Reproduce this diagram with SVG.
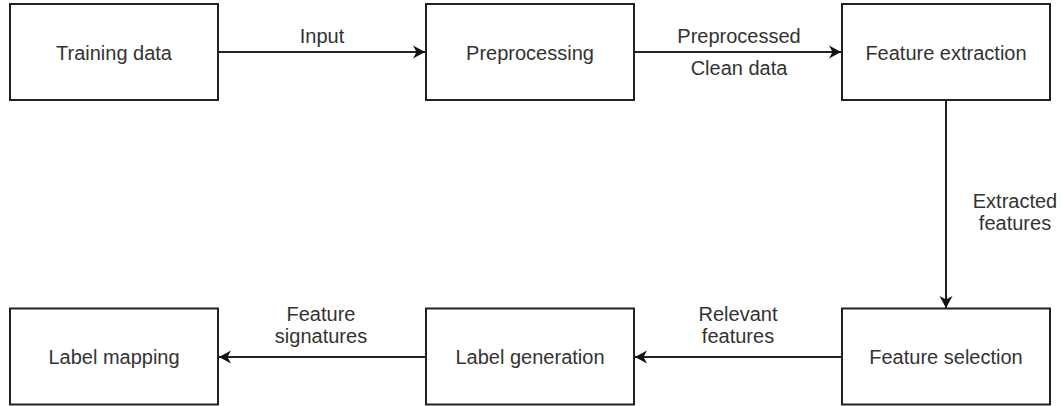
<svg xmlns="http://www.w3.org/2000/svg" width="1063" height="406" viewBox="0 0 1063 406">
  <style>
    .box { fill: #ffffff; stroke: #222222; stroke-width: 2; }
    .edge { fill: none; stroke: #222222; stroke-width: 2; }
    .t { font-family: "Liberation Sans", Arial, sans-serif; font-size: 20px; fill: #333333; text-anchor: middle; }
  </style>
  <defs>
    <marker id="arrow" markerUnits="userSpaceOnUse" markerWidth="14" markerHeight="14" refX="12" refY="7" orient="auto">
      <path d="M0,0.5 L12,7 L0,13.5 L3.5,7 Z" fill="#111111" stroke="none"/>
    </marker>
  </defs>
  <rect width="1063" height="406" fill="#ffffff"/>

  <g id="connectors">
    <g id="e-input">
      <line class="edge" x1="218" y1="52" x2="425" y2="52" marker-end="url(#arrow)"/>
      <text class="t" x="322" y="43">Input</text>
    </g>
    <g id="e-preprocessed">
      <line class="edge" x1="634" y1="52" x2="841" y2="52" marker-end="url(#arrow)"/>
      <text class="t" x="739" y="43">Preprocessed</text>
      <text class="t" x="739" y="75">Clean data</text>
    </g>
    <g id="e-extracted">
      <line class="edge" x1="946" y1="100" x2="946" y2="308" marker-end="url(#arrow)"/>
      <text class="t" x="1015" y="208">Extracted</text>
      <text class="t" x="1015" y="230">features</text>
    </g>
    <g id="e-relevant">
      <line class="edge" x1="842" y1="357" x2="635" y2="357" marker-end="url(#arrow)"/>
      <text class="t" x="738" y="320.5">Relevant</text>
      <text class="t" x="738" y="342.5">features</text>
    </g>
    <g id="e-signatures">
      <line class="edge" x1="426" y1="357" x2="219" y2="357" marker-end="url(#arrow)"/>
      <text class="t" x="321" y="320.5">Feature</text>
      <text class="t" x="321" y="342.5">signatures</text>
    </g>
  </g>

  <g id="n-training">
    <rect class="box" x="10" y="4" width="208" height="96"/>
    <text class="t" x="114" y="60">Training data</text>
  </g>
  <g id="n-preprocessing">
    <rect class="box" x="426" y="4" width="208" height="96"/>
    <text class="t" x="530" y="60">Preprocessing</text>
  </g>
  <g id="n-extraction">
    <rect class="box" x="842" y="4" width="208" height="96"/>
    <text class="t" x="946" y="60">Feature extraction</text>
  </g>
  <g id="n-selection">
    <rect class="box" x="842" y="308.5" width="208" height="96"/>
    <text class="t" x="946" y="364">Feature selection</text>
  </g>
  <g id="n-generation">
    <rect class="box" x="426" y="308.5" width="208" height="96"/>
    <text class="t" x="530" y="364">Label generation</text>
  </g>
  <g id="n-mapping">
    <rect class="box" x="10" y="308.5" width="208" height="96"/>
    <text class="t" x="114" y="364">Label mapping</text>
  </g>
</svg>
